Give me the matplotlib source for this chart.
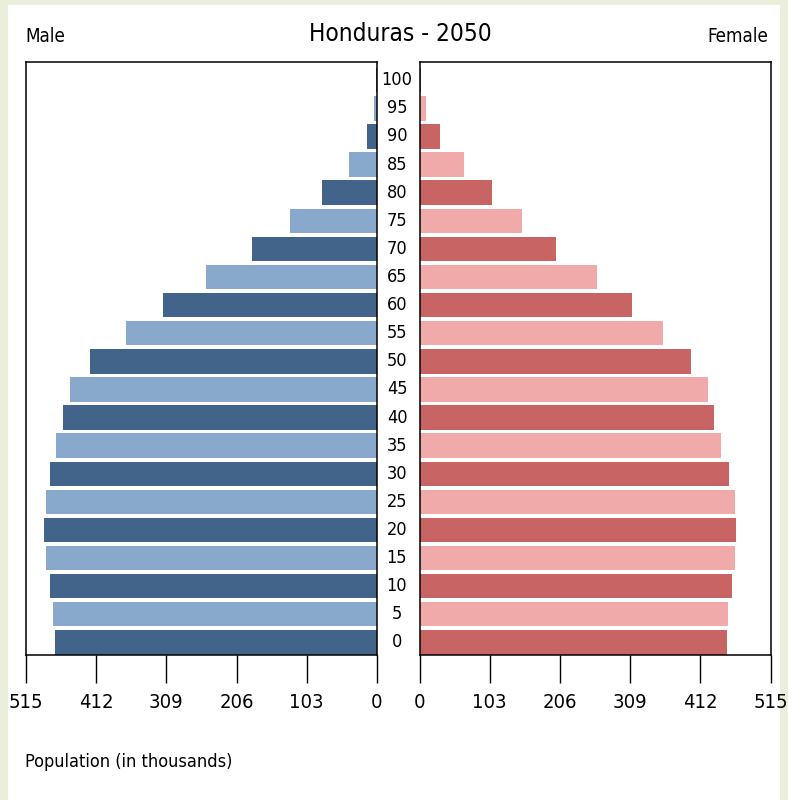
import numpy as np
import matplotlib
matplotlib.use("Agg")
from matplotlib import pyplot as plt
from matplotlib import transforms
from matplotlib.patches import Rectangle

plt.rcParams['font.family'] = ['DejaVu Sans']
plt.rcParams['font.stretch'] = 'condensed'

ages = [0, 5, 10, 15, 20, 25, 30, 35, 40, 45, 50, 55, 60, 65, 70, 75, 80, 85, 90, 95, 100]
male = [473, 475, 480, 486, 488, 486, 480, 471, 461, 450, 421, 369, 314, 251, 183, 128, 81, 41, 15, 4, 2]
female = [451, 452, 458, 463, 465, 463, 454, 443, 432, 423, 399, 358, 312, 260, 201, 151, 106, 65, 30, 9, 2]
ticks = [0, 103, 206, 309, 412, 515]

male_cols = ['#42648a', '#88a8cc']
female_cols = ['#c86464', '#f0aaaa']

W, H = 788, 800
fig = plt.figure(figsize=(W / 100, H / 100), dpi=100, facecolor='#eaefdc')
fig.patches.append(Rectangle((8 / W, 0), 772 / W, 795 / H, transform=fig.transFigure,
                             facecolor='white', edgecolor='none', zorder=-10))

bot = (H - 655) / H
hgt = 593 / H
ax_l = fig.add_axes([26 / W, bot, 351 / W, hgt])
ax_r = fig.add_axes([419.5 / W, bot, 351 / W, hgt])

y = np.arange(len(ages))
ax_l.barh(y, male, height=0.87, color=[male_cols[i % 2] for i in y])
ax_r.barh(y, female, height=0.87, color=[female_cols[i % 2] for i in y])

ax_l.set_xlim(515, 0)
ax_r.set_xlim(0, 515)
for ax in (ax_l, ax_r):
    ax.set_ylim(-0.45, 20.65)
    ax.set_yticks([])
    ax.set_xticks(ticks)
    ax.set_xticklabels([str(t) for t in ticks])
    ax.tick_params(axis='x', length=20, width=1.0, pad=7, labelsize=14.5, direction='out')
    for s in ax.spines.values():
        s.set_linewidth(1.1)

# age labels in the gap
tr = transforms.blended_transform_factory(fig.transFigure, ax_l.transData)
for i, a in enumerate(ages):
    fig.text(397 / W, i, str(a), transform=tr, ha='center', va='center', fontsize=13)

fig.text(400 / W, 1 - 40.7 / H, 'Honduras - 2050', ha='center', va='baseline', fontsize=17.5)
fig.text(25 / W, 1 - 41.7 / H, 'Male', ha='left', va='baseline', fontsize=13.5)
fig.text(768 / W, 1 - 41.7 / H, 'Female', ha='right', va='baseline', fontsize=13.5)
fig.text(25 / W, 1 - 767 / H, 'Population (in thousands)', ha='left', va='baseline', fontsize=13)

fig.savefig('out.png', dpi=100, facecolor=fig.get_facecolor())
